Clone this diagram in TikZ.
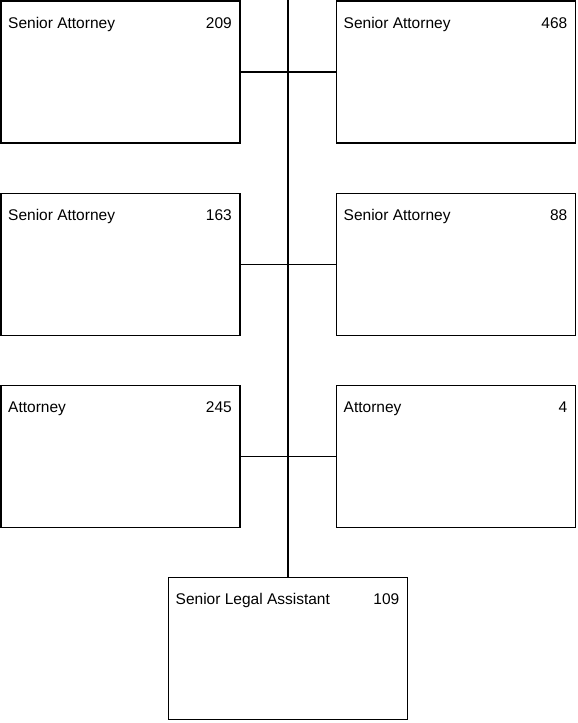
\documentclass[tikz,border=0pt]{standalone}
\usepackage{fontspec}
\setmainfont{Liberation Sans}
\begin{document}
\begin{tikzpicture}[x=1pt,y=-1pt,
  post/.style={draw, line width=1.8pt, minimum width=239pt, minimum height=142pt,
               anchor=north west, inner sep=0pt, outer sep=0pt, fill=white},
  wire/.style={line width=1.2pt},
  role/.style={anchor=base west, inner sep=0pt, font=\fontsize{15.5}{18}\selectfont},
  num/.style={anchor=base east, inner sep=0pt, font=\fontsize{15.5}{18}\selectfont}]
\useasboundingbox (0,0) rectangle (578,723);

% trunk of the chart
\coordinate (top) at (288,0);

% positions
\node[post] (p209) at (1,1) {};
\node[post] (p468) at (336.5,1) {};
\node[post] (p163) at (1,193.5) {};
\node[post] (p88)  at (336.5,193.5) {};
\node[post] (p245) at (1,385.5) {};
\node[post] (p4)   at (336.5,385.5) {};
\node[post] (p109) at (168.5,577.5) {};

% titles and numbers
\foreach \n/\t/\k in {p209/Senior Attorney/209, p468/Senior Attorney/468,
                      p163/Senior Attorney/163, p88/Senior Attorney/88,
                      p245/Attorney/245, p4/Attorney/4,
                      p109/Senior Legal Assistant/109}{
  \node[role] (\n-title) at ([shift={(7,27)}]\n.north west) {\t};
  \node[num]  (\n-num)   at ([shift={(-8,27)}]\n.north east) {\k};
}

% connectors
\draw[wire] (top) -- (p109.north);
\draw[wire] (p209.east) -- (p468.west);
\draw[wire] (p163.east) -- (p88.west);
\draw[wire] (p245.east) -- (p4.west);
\end{tikzpicture}
\end{document}
